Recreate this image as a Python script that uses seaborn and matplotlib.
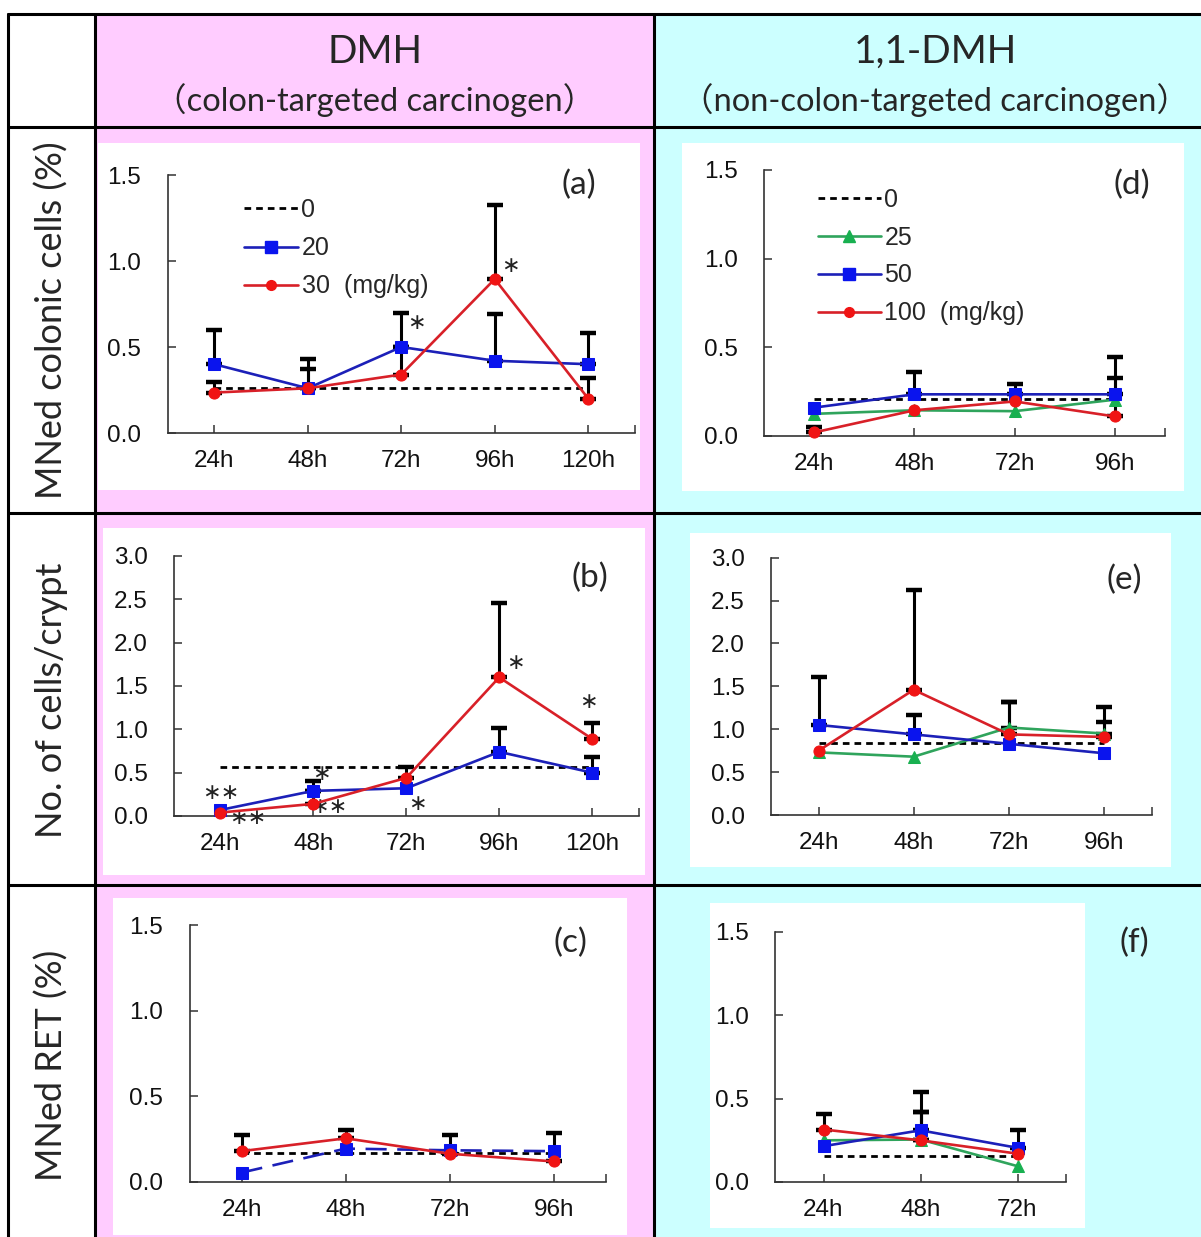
import numpy as np
import pandas as pd
import matplotlib
matplotlib.use("Agg")
import matplotlib.pyplot as plt
from matplotlib.patches import Rectangle
from matplotlib.lines import Line2D
import seaborn as sns

# ---------------- data ----------------
times_5 = ["24h", "48h", "72h", "96h", "120h"]
times_4 = ["24h", "48h", "72h", "96h"]
times_3 = ["24h", "48h", "72h"]

col_headers = ["DMH", "1,1-DMH"]
col_subheaders = ["（colon-targeted carcinogen）", "（non-colon-targeted carcinogen）"]
row_labels = ["MNed colonic cells (%)", "No. of cells/crypt", "MNed RET (%)"]

legend_dmh = ["0", "20", "30  (mg/kg)"]
legend_11dmh = ["0", "25", "50", "100  (mg/kg)"]

# (a) MNed colonic cells, DMH
a_ctrl = [0.26, 0.26, 0.26, 0.26, 0.26]
a_20 = [0.40, 0.26, 0.50, 0.42, 0.40]
a_20_err = [0.20, 0.17, 0.20, 0.27, 0.18]
a_30 = [0.235, 0.26, 0.34, 0.895, 0.20]
a_30_err = [0.06, 0.11, 0.16, 0.43, 0.12]

# (b) No. of cells/crypt, DMH
b_ctrl = [0.56, 0.56, 0.56, 0.56, 0.56]
b_20 = [0.07, 0.29, 0.32, 0.74, 0.50]
b_20_err = [0.0, 0.11, 0.0, 0.27, 0.18]
b_30 = [0.04, 0.14, 0.44, 1.60, 0.89]
b_30_err = [0.0, 0.15, 0.12, 0.86, 0.18]

# (c) MNed RET, DMH
c_ctrl = [0.17, 0.17, 0.17, 0.17]
c_20 = [0.055, 0.195, 0.185, 0.18]
c_30 = [0.18, 0.255, 0.165, 0.12]
c_30_err = [0.095, 0.05, 0.11, 0.165]

# (d) MNed colonic cells, 1,1-DMH
d_ctrl = [0.21, 0.21, 0.21, 0.21]
d_25 = [0.125, 0.145, 0.14, 0.205]
d_50 = [0.16, 0.235, 0.235, 0.235]
d_50_err = [0.0, 0.125, 0.06, 0.21]
d_100 = [0.02, 0.145, 0.195, 0.11]
d_100_err = [0.03, 0.0, 0.0, 0.215]

# (e) No. of cells/crypt, 1,1-DMH
e_ctrl = [0.84, 0.84, 0.84, 0.84]
e_25 = [0.73, 0.68, 1.02, 0.95]
e_25_err = [0.0, 0.0, 0.30, 0.13]
e_50 = [1.05, 0.94, 0.83, 0.72]
e_50_err = [0.56, 0.23, 0.0, 0.0]
e_100 = [0.75, 1.46, 0.94, 0.91]
e_100_err = [0.0, 1.16, 0.38, 0.35]

# (f) MNed RET, 1,1-DMH
f_ctrl = [0.155, 0.155, 0.155]
f_25 = [0.25, 0.255, 0.095]
f_25_err = [0.0, 0.165, 0.0]
f_50 = [0.215, 0.31, 0.205]
f_50_err = [0.0, 0.23, 0.105]
f_100 = [0.315, 0.25, 0.17]
f_100_err = [0.095, 0.17, 0.0]

# significance marks: (x index, y value, text)
sig_a = [(2.16, 0.64, "∗"), (3.17, 0.97, "∗")]
sig_b = [(0.0, 0.265, "∗∗"), (0.29, -0.02, "∗∗"), (1.09, 0.48, "∗"),
         (1.17, 0.10, "∗∗"), (2.12, 0.14, "∗"), (3.17, 1.76, "∗"), (3.96, 1.31, "∗")]

# ---------------- style ----------------
sns.set_theme(style="white")
plt.rcParams['font.family'] = ['Liberation Sans', 'DejaVu Sans']

BLUE, BLUE_L = "#0A14EE", "#1C20B8"
RED, RED_L = "#F01414", "#D82028"
GREEN, GREEN_L = "#18B050", "#2FA45C"
PINK, CYAN = "#FFCCFF", "#CCFFFF"
CTRL_DASH = (0, (2.4, 1.8))
TICK_FS = 17.5
LEG_FS = 18

W, H = 1201, 1237
fig = plt.figure(figsize=(W / 100, H / 100), dpi=100)
fig.patch.set_facecolor("white")


def fx(x):
    return x / W


def fy(y):
    return 1 - y / H


def rect(x0, y0, x1, y1, color, z=-5):
    fig.add_artist(Rectangle((fx(x0), fy(y1)), (x1 - x0) / W, (y1 - y0) / H,
                             transform=fig.transFigure, facecolor=color,
                             edgecolor="none", zorder=z))


def hline(y, x0, x1):
    fig.add_artist(Line2D([fx(x0), fx(x1)], [fy(y), fy(y)], transform=fig.transFigure,
                          color="black", lw=2.2, zorder=-1))


def vline(x, y0, y1):
    fig.add_artist(Line2D([fx(x), fx(x)], [fy(y0), fy(y1)], transform=fig.transFigure,
                          color="black", lw=2.2, zorder=-1))


# table backgrounds
rect(95, 14, 654, H, PINK, z=-10)
rect(654, 14, W, H, CYAN, z=-10)
# white plot boxes
boxes = {
    "a": (98, 143, 640, 490), "b": (103, 528, 645, 875), "c": (113, 898, 627, 1235),
    "d": (682, 143, 1184, 491), "e": (690, 533, 1171, 867), "f": (710, 903, 1085, 1228),
}
for b in boxes.values():
    rect(*b, "white", z=-8)
# grid lines
hline(14, 8, W)
hline(127, 8, W)
hline(513, 8, W)
hline(885, 8, W)
vline(8, 14, H)
vline(95, 14, H)
vline(654, 14, H)

head_font = ['Lato', 'Noto Sans CJK JP', 'DejaVu Sans']
fig.text(fx(375), fy(52), col_headers[0], ha="center", va="center", fontsize=28, family=head_font)
fig.text(fx(375), fy(100), col_subheaders[0], ha="center", va="center", fontsize=23.5, family=head_font)
fig.text(fx(935), fy(52), col_headers[1], ha="center", va="center", fontsize=28, family=head_font)
fig.text(fx(935), fy(100), col_subheaders[1], ha="center", va="center", fontsize=23.5, family=head_font)
for lab, yc in zip(row_labels, [320, 700, 1065]):
    fig.text(fx(52), fy(yc), lab, ha="center", va="center", rotation=90, fontsize=26, family=head_font)


def make_ax(l, t, r, b):
    ax = fig.add_axes([fx(l), fy(b), (r - l) / W, (b - t) / H])
    ax.patch.set_visible(False)
    return ax


def style_ax(ax, labels, ymax):
    n = len(labels)
    ax.set_xlim(-0.5, n - 0.5)
    ax.set_ylim(0, ymax)
    ax.set_xticks(list(range(n)) + [n - 0.5])
    ax.set_xticklabels(labels + [""])
    yt = np.arange(0, ymax + 0.01, 0.5)
    ax.set_yticks(yt)
    ax.set_yticklabels([f"{v:.1f}" for v in yt])
    ax.tick_params(axis="both", direction="in", length=6, width=1.1, color="#333333",
                   labelsize=TICK_FS, labelcolor="#111111")
    ax.tick_params(axis="y", pad=19, left=True)
    ax.tick_params(axis="x", pad=12, bottom=True)
    for s in ["top", "right"]:
        ax.spines[s].set_visible(False)
    for s in ["left", "bottom"]:
        ax.spines[s].set_color("#333333")
        ax.spines[s].set_linewidth(1.2)
    ax.set_xlabel("")
    ax.set_ylabel("")


def draw_ctrl(ax, values):
    df = pd.DataFrame({"t": np.arange(len(values)), "v": values})
    sns.lineplot(data=df, x="t", y="v", ax=ax, color="black", linewidth=2.0,
                 linestyle=CTRL_DASH, legend=False, errorbar=None, zorder=3)


def draw_series(ax, values, err, color, lcolor, marker, ms=8, ls="-"):
    df = pd.DataFrame({"t": np.arange(len(values)), "v": values})
    if err is not None:
        e = np.array(err)
        m = e > 0
        ax.errorbar(df["t"][m], df["v"][m], yerr=[np.zeros(m.sum()), e[m]], fmt="none",
                    ecolor="black", elinewidth=2.2, capsize=5.5, capthick=3.2, zorder=2)
    sns.lineplot(data=df, x="t", y="v", ax=ax, color=lcolor, linewidth=1.9, linestyle=ls,
                 marker=marker, markersize=ms, markerfacecolor=color, markeredgecolor=color,
                 legend=False, errorbar=None, zorder=4, clip_on=False)


def handles(kinds):
    hs = [Line2D([], [], color="black", lw=2.0, ls=CTRL_DASH)]
    for color, lcolor, mk, ms in kinds:
        hs.append(Line2D([], [], color=lcolor, lw=1.9, marker=mk, ms=ms, mfc=color, mec=color))
    return hs


def sig(ax, marks):
    for x, y, s in marks:
        ax.text(x, y, s, ha="center", va="center", fontsize=16, family="DejaVu Sans",
                color="#222222", clip_on=False)


# (a)
ax = make_ax(167.5, 175, 635, 433)
draw_ctrl(ax, a_ctrl)
draw_series(ax, a_20, a_20_err, BLUE, BLUE_L, "s")
draw_series(ax, a_30, a_30_err, RED, RED_L, "o")
style_ax(ax, times_5, 1.5)
sig(ax, sig_a)
ax.legend(handles([(BLUE, BLUE_L, "s", 8), (RED, RED_L, "o", 7)]), legend_dmh,
          loc="upper left", bbox_to_anchor=(fx(244), fy(198)), bbox_transform=fig.transFigure,
          frameon=False, handlelength=2.15, handletextpad=0.15, labelspacing=0.57,
          borderpad=0, borderaxespad=0, fontsize=LEG_FS)

# (b)
ax = make_ax(174, 556, 638.6, 816)
draw_ctrl(ax, b_ctrl)
draw_series(ax, b_20, b_20_err, BLUE, BLUE_L, "s")
draw_series(ax, b_30, b_30_err, RED, RED_L, "o")
style_ax(ax, times_5, 3.0)
sig(ax, sig_b)

# (c)
ax = make_ax(189.6, 925, 605.7, 1182)
draw_ctrl(ax, c_ctrl)
draw_series(ax, c_20, None, BLUE, BLUE_L, "s", ls=(0, (8, 4)))
draw_series(ax, c_30, c_30_err, RED, RED_L, "o")
style_ax(ax, times_4, 1.5)

# (d)
ax = make_ax(764, 170, 1165, 436)
draw_ctrl(ax, d_ctrl)
draw_series(ax, d_25, None, GREEN, GREEN_L, "^", ms=8)
draw_series(ax, d_50, d_50_err, BLUE, BLUE_L, "s")
draw_series(ax, d_100, d_100_err, RED, RED_L, "o")
style_ax(ax, times_4, 1.5)
ax.legend(handles([(GREEN, GREEN_L, "^", 8), (BLUE, BLUE_L, "s", 8), (RED, RED_L, "o", 7)]),
          legend_11dmh, loc="upper left", bbox_to_anchor=(fx(818), fy(188)),
          bbox_transform=fig.transFigure, frameon=False, handlelength=2.5,
          handletextpad=0.15, labelspacing=0.55, borderpad=0, borderaxespad=0, fontsize=LEG_FS)

# (e)
ax = make_ax(771, 557.7, 1151.5, 815)
draw_ctrl(ax, e_ctrl)
draw_series(ax, e_25, e_25_err, GREEN, GREEN_L, "^", ms=8)
draw_series(ax, e_50, e_50_err, BLUE, BLUE_L, "s")
draw_series(ax, e_100, e_100_err, RED, RED_L, "o")
style_ax(ax, times_4, 3.0)

# (f)
ax = make_ax(775, 932, 1066, 1182)
draw_ctrl(ax, f_ctrl)
draw_series(ax, f_25, f_25_err, GREEN, GREEN_L, "^", ms=8)
draw_series(ax, f_50, f_50_err, BLUE, BLUE_L, "s")
draw_series(ax, f_100, f_100_err, RED, RED_L, "o")
style_ax(ax, times_3, 1.5)

# panel letters
for letter, (px, py) in zip("abcdef", [(579, 185), (590, 578), (570, 943),
                                        (1132, 185), (1124, 580), (1134, 943)]):
    fig.text(fx(px), fy(py), f"({letter})", ha="center", va="center", fontsize=24, family=head_font)

fig.savefig("out.png", dpi=100)
